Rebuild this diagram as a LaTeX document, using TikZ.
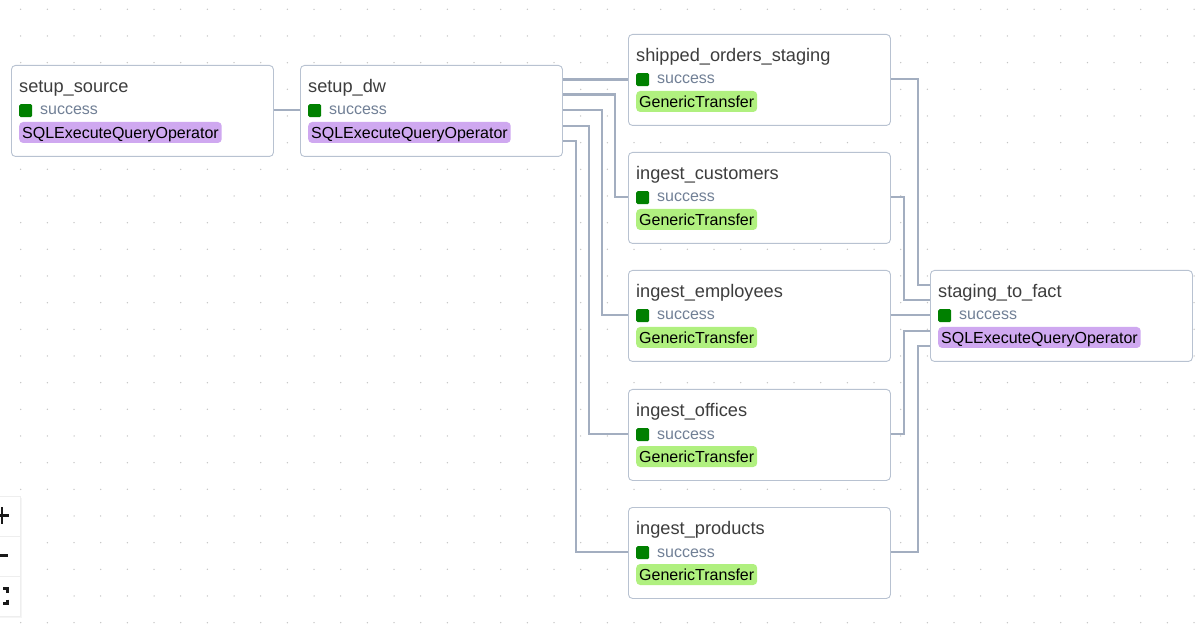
\documentclass[tikz,border=0pt]{standalone}
\usepackage{fontspec}
\usetikzlibrary{calc}
\newfontfamily\uifont{Liberation Sans}

\definecolor{edgecol}{HTML}{A3AEC0}
\definecolor{bordercol}{HTML}{B8C2D1}
\definecolor{titlecol}{HTML}{3D3D3D}
\definecolor{statecol}{HTML}{718096}
\definecolor{okgreen}{HTML}{008000}
\definecolor{sqlop}{HTML}{CFA8F0}
\definecolor{xferop}{HTML}{B0F07F}
\definecolor{dotcol}{HTML}{C4C4C4}
\definecolor{panelline}{HTML}{EEEEEE}

\tikzset{
  task/.style={draw=bordercol, line width=0.9pt, fill=white, rounded corners=4pt,
    minimum width=262pt, minimum height=91pt, inner sep=0pt, anchor=north west},
  tasktitle/.style={anchor=base west, inner sep=0pt,
    font=\uifont\fontsize{18.2}{20}\selectfont, text=titlecol},
  taskstate/.style={anchor=base west, inner sep=0pt,
    font=\uifont\fontsize{16}{18}\selectfont, text=statecol},
  statebox/.style={fill=okgreen, rounded corners=1.5pt, minimum size=13pt,
    inner sep=0pt, anchor=north west},
  opbadge/.style={anchor=west, rounded corners=4pt, inner xsep=3pt, inner ysep=0pt,
    minimum height=21pt, text height=11.5pt, text depth=0pt,
    font=\uifont\fontsize{16}{18}\selectfont, text=black},
  edge/.style={draw=edgecol, line width=2.8pt},
  ctrl/.style={line width=2.1pt, draw=black!90},
}

% one task card: name, left, top, title, badge colour, operator
\newcommand\taskcard[6]{%
  \node[task] (#1) at (#2,#3) {};
  \node[tasktitle] (#1-t) at ($(#1.north west)+(8,27.5)$) {#4};
  \node[statebox] (#1-s) at ($(#1.north west)+(8,39)$) {};
  \node[taskstate] (#1-l) at ($(#1.north west)+(29,50)$) {success};
  \node[opbadge, fill=#5] (#1-o) at ($(#1.north west)+(8,67.5)$) {#6};
}

\begin{document}
\begin{tikzpicture}[x=1pt, y=-1pt]
  \useasboundingbox (0,0) rectangle (1203,628);
  \fill[white] (0,0) rectangle (1203,628);

  % dotted canvas
  \foreach \i in {0,...,44} {
    \foreach \j in {0,...,23} {
      \fill[dotcol] (20.7+26.667*\i, 9.3+26.667*\j) circle (0.75);
    }
  }

  % task cards
  \taskcard{src}{11}{65}{setup\_source}{sqlop}{SQLExecuteQueryOperator}
  \taskcard{dw}{300}{65}{setup\_dw}{sqlop}{SQLExecuteQueryOperator}
  \taskcard{ship}{628}{34}{shipped\_orders\_staging}{xferop}{GenericTransfer}
  \taskcard{cust}{628}{152}{ingest\_customers}{xferop}{GenericTransfer}
  \taskcard{emp}{628}{270}{ingest\_employees}{xferop}{GenericTransfer}
  \taskcard{off}{628}{389}{ingest\_offices}{xferop}{GenericTransfer}
  \taskcard{prod}{628}{507}{ingest\_products}{xferop}{GenericTransfer}
  \taskcard{fact}{930}{270}{staging\_to\_fact}{sqlop}{SQLExecuteQueryOperator}

  % dependencies
  \draw[edge] ($(src.north east)+(0,45)$) -- ($(dw.north west)+(0,45)$);

  \coordinate (d1) at ($(dw.north east)+(0,14.5)$);
  \coordinate (d2) at ($(dw.north east)+(0,29.5)$);
  \coordinate (d3) at ($(dw.north east)+(0,45)$);
  \coordinate (d4) at ($(dw.north east)+(0,61)$);
  \coordinate (d5) at ($(dw.north east)+(0,76)$);
  \draw[edge] (d1) -- (d1 -| ship.west);
  \draw[edge] (d2) -- ++(52,0) |- ($(cust.north west)+(0,45)$);
  \draw[edge] (d3) -- ++(39,0) |- ($(emp.north west)+(0,45)$);
  \draw[edge] (d4) -- ++(26,0) |- ($(off.north west)+(0,45)$);
  \draw[edge] (d5) -- ++(13,0) |- ($(prod.north west)+(0,45)$);

  \draw[edge] ($(ship.north east)+(0,45)$) -- ++(27,0) |- ($(fact.north west)+(0,15)$);
  \draw[edge] ($(cust.north east)+(0,45)$) -- ++(13,0) |- ($(fact.north west)+(0,30)$);
  \draw[edge] ($(emp.north east)+(0,45)$) -- ($(fact.north west)+(0,45)$);
  \draw[edge] ($(off.north east)+(0,45)$) -- ++(13,0) |- ($(fact.north west)+(0,61)$);
  \draw[edge] ($(prod.north east)+(0,45)$) -- ++(27,0) |- ($(fact.north west)+(0,76)$);

  % zoom controls
  \fill[black!4] (-1,497.5) rectangle (21.5,618);
  \fill[white, draw=panelline, line width=0.8pt] (-1,496.7) rectangle (20,616.7);
  \draw[panelline, line width=0.8pt] (0,536.7) -- (20,536.7);
  \draw[panelline, line width=0.8pt] (0,576.7) -- (20,576.7);
  \draw[ctrl] (-7,515.5) -- (9,515.5);
  \draw[ctrl] (2,507) -- (2,524);
  \draw[ctrl] (-7,555.5) -- (8.3,555.5);
  \draw[ctrl] (3,588.5) -- (7.5,588.5) -- (7.5,592.5);
  \draw[ctrl] (7.5,599.5) -- (7.5,603.5) -- (3,603.5);
\end{tikzpicture}
\end{document}
